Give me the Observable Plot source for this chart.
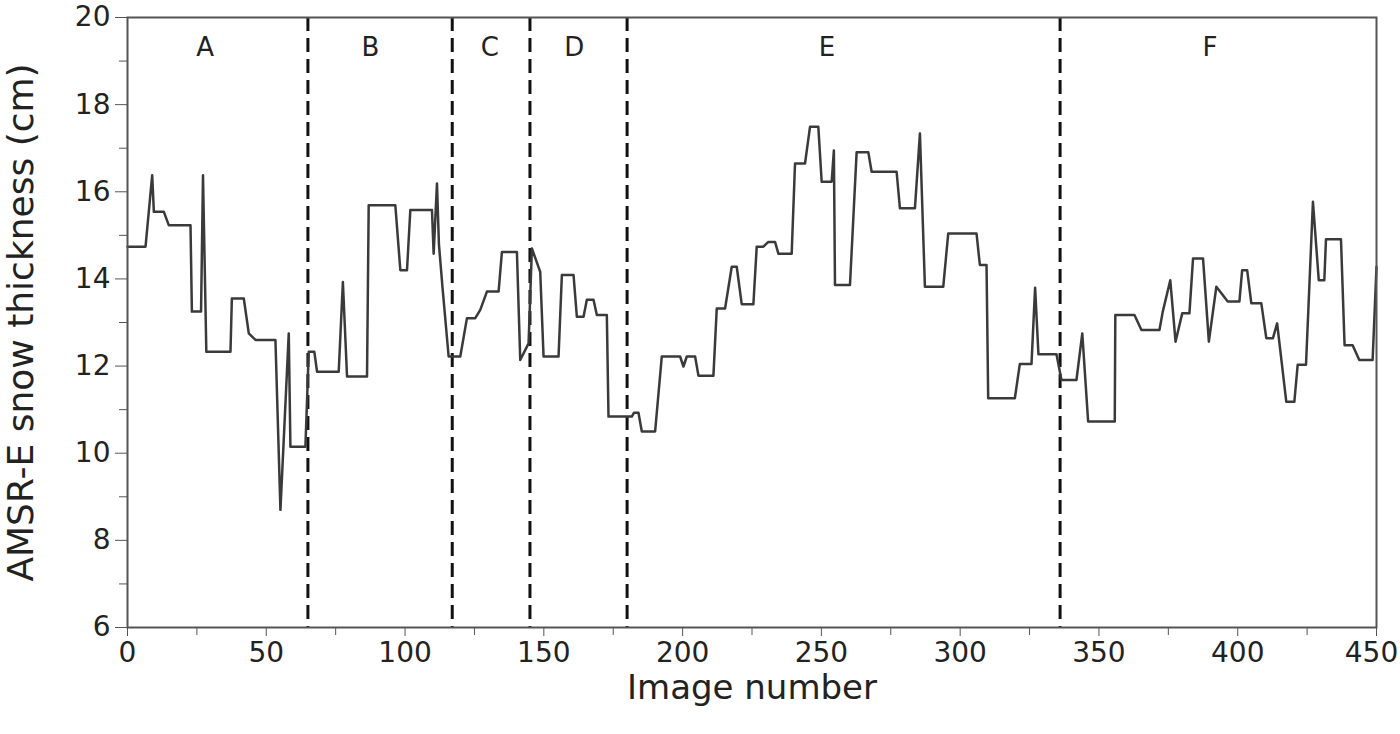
<!DOCTYPE html>
<html>
<head>
<meta charset="utf-8">
<script src="https://cdn.jsdelivr.net/npm/d3@7"></script>
<script src="https://cdn.jsdelivr.net/npm/@observablehq/plot@0.6"></script>
<style>
  html, body { margin: 0; padding: 0; background: #fff; }
  #chart { width: 1400px; height: 734px; }
</style>
</head>
<body>
<div id="chart"></div>
<script>
// Vertices of the stepped AMSR-E series (image number, snow thickness in cm)
const imageNumber = [0,6.5,8.9,9.5,13.1,14.9,22.7,23.2,26.5,27.2,28.4,37.1,37.6,41.9,43.7,46.1,53.3,55.1,58.1,58.7,64.1,65.3,67.3,68.3,76.1,77.6,79.1,86.3,86.9,96.5,98.3,100.7,101.9,109.7,110.3,111.5,112.2,113.5,115.7,119.9,122.3,125.3,127.1,129.5,133.7,134.9,140.3,141.5,144.5,145.7,148.7,149.9,155.3,156.5,160.7,161.9,164.3,165.5,167.9,169.1,172.7,173.3,181.7,182.5,184.1,185.3,190.1,192.5,199.1,200.3,201.5,204.5,205.7,211.1,212.3,215.3,217.7,219.5,221.3,225.5,226.7,229.1,230.9,233.3,234.5,239.3,240.5,244.1,245.9,248.9,250.1,253.7,254.5,254.9,260.3,262.7,266.9,268.1,277.1,278.3,283.7,285.5,287.3,293.9,295.7,305.9,307.1,309.5,310.1,319.7,321.5,325.7,327.0,328.2,334.7,336.5,341.9,344,346.1,355.7,355.9,362.8,365.3,371.8,373,375.7,377.6,380,382.6,383.9,387.5,389.6,392.3,396.4,400.6,401.6,403.4,404.9,408.5,410.3,412.7,414.2,417.5,420.4,421.6,424.6,427.1,429.2,431.2,431.8,437.2,438.5,441.4,443.8,448.6,450];
const snowThickness = [14.74,14.74,16.38,15.54,15.54,15.23,15.23,13.25,13.25,16.38,12.33,12.33,13.55,13.55,12.75,12.6,12.6,8.70,12.75,10.15,10.15,12.33,12.33,11.87,11.87,13.93,11.76,11.76,15.69,15.69,14.20,14.20,15.58,15.58,14.58,16.19,14.8,13.8,12.22,12.22,13.10,13.10,13.29,13.71,13.71,14.62,14.62,12.14,12.52,14.70,14.16,12.22,12.22,14.09,14.09,13.13,13.13,13.52,13.52,13.17,13.17,10.84,10.84,10.93,10.93,10.50,10.50,12.22,12.22,11.99,12.22,12.22,11.78,11.78,13.32,13.32,14.28,14.28,13.42,13.42,14.74,14.74,14.85,14.85,14.58,14.58,16.65,16.65,17.49,17.49,16.23,16.23,16.95,13.86,13.86,16.91,16.91,16.46,16.46,15.62,15.62,17.34,13.82,13.82,15.04,15.04,14.32,14.32,11.26,11.26,12.05,12.05,13.80,12.27,12.27,11.68,11.68,12.75,10.73,10.73,13.17,13.17,12.83,12.83,13.25,13.97,12.56,13.21,13.21,14.47,14.47,12.56,13.82,13.48,13.48,14.20,14.20,13.44,13.44,12.64,12.64,12.98,11.18,11.18,12.03,12.03,15.77,13.97,13.97,14.91,14.91,12.48,12.48,12.14,12.14,14.28];

// Segment boundaries (dashed lines) and segment names
const boundaries = [65, 117, 145, 180, 336];
const segmentNames = ["A", "B", "C", "D", "E", "F"];
const segmentCenters = [28, 87.5, 130.5, 161, 252, 390];
const segmentLabelY = 19.3;

// Axis ticks
const xMajorTicks = [0, 50, 100, 150, 200, 250, 300, 350, 400, 450];
const xLastTick = [450];
const xMinorTicks = [25, 75, 125, 175, 225, 275, 325, 375, 425];
const yMajorTicks = [6, 8, 10, 12, 14, 16, 18, 20];
const yMinorTicks = [7, 9, 11, 13, 15, 17, 19];

const xTitle = "Image number";
const yTitle = "AMSR-E snow thickness (cm)";

const series = imageNumber.map((x, i) => ({x, y: snowThickness[i]}));
const segLabels = segmentNames.map((t, i) => ({x: segmentCenters[i], y: segmentLabelY, t}));

const chart = Plot.plot({
  width: 1400,
  height: 734,
  marginLeft: 127,
  marginRight: 24,
  marginTop: 17,
  marginBottom: 107,
  x: {domain: [0, 450]},
  y: {domain: [6, 20]},
  style: {fontFamily: "DejaVu Sans", fontSize: "28px", color: "#222", background: "#fff"},
  marks: [
    Plot.ruleX(boundaries, {stroke: "#111", strokeWidth: 3, strokeDasharray: "14,7"}),
    Plot.line(series, {x: "x", y: "y", stroke: "#3a3a3a", strokeWidth: 2.5}),
    Plot.text(segLabels, {x: "x", y: "y", text: "t", fontSize: 26, fill: "#222"}),
    Plot.frame({stroke: "#555", strokeWidth: 2}),
    Plot.axisX({ticks: xMajorTicks, tickSize: 9, tickPadding: 6, tickFormat: d => (xLastTick.includes(d) ? "" : String(d)), label: null, stroke: "#555"}),
    Plot.textX(xLastTick, {x: d => d, frameAnchor: "bottom", lineAnchor: "top", dy: 15, dx: -5, text: d => String(d), fontSize: 28, fill: "#222"}),
    Plot.axisX({ticks: xMinorTicks, tickSize: 8, tickFormat: () => "", label: null, stroke: "#555"}),
    Plot.axisY({ticks: yMajorTicks, tickSize: 12, tickPadding: 5, tickFormat: d => String(d), label: null, stroke: "#555"}),
    Plot.axisY({ticks: yMinorTicks, tickSize: 8, tickFormat: () => "", label: null, stroke: "#555"}),
    Plot.text([xTitle], {frameAnchor: "bottom", lineAnchor: "middle", textAnchor: "middle", dy: 61, fontSize: 34, fill: "#222"}),
    Plot.text([yTitle], {frameAnchor: "left", lineAnchor: "middle", textAnchor: "middle", rotate: -90, dx: -106, fontSize: 36, fill: "#222"})
  ]
});
document.getElementById("chart").appendChild(chart);
</script>
</body>
</html>
